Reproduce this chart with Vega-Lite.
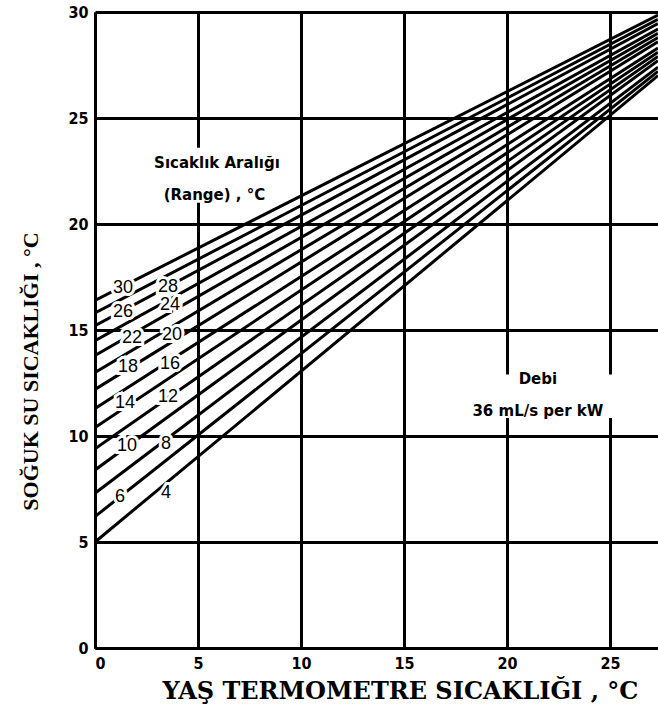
{
  "$schema": "https://vega.github.io/schema/vega-lite/v6.json",
  "width": 563,
  "height": 636,
  "autosize": "none",
  "padding": {"left": 95, "top": 12, "right": 0, "bottom": 73},
  "background": "white",
  "config": {
    "view": {"stroke": null},
    "axis": {
      "grid": true,
      "gridColor": "black",
      "gridWidth": 3,
      "gridOpacity": 1,
      "domainColor": "black",
      "domainWidth": 3,
      "ticks": false,
      "labelFont": "DejaVu Sans Condensed",
      "labelFontWeight": "bold",
      "labelFontSize": 16,
      "labelColor": "black",
      "titleFontWeight": "bold",
      "titleColor": "black"
    }
  },
  "datasets": {
    "lines": [
      {"range": 4, "x": 0, "y": 5.0}, {"range": 4, "x": 27.33, "y": 27.0},
      {"range": 6, "x": 0, "y": 6.2}, {"range": 6, "x": 27.33, "y": 27.2},
      {"range": 8, "x": 0, "y": 7.3}, {"range": 8, "x": 27.33, "y": 27.4},
      {"range": 10, "x": 0, "y": 8.4}, {"range": 10, "x": 27.33, "y": 27.7},
      {"range": 12, "x": 0, "y": 9.4}, {"range": 12, "x": 27.33, "y": 27.9},
      {"range": 14, "x": 0, "y": 10.4}, {"range": 14, "x": 27.33, "y": 28.1},
      {"range": 16, "x": 0, "y": 11.3}, {"range": 16, "x": 27.33, "y": 28.3},
      {"range": 18, "x": 0, "y": 12.2}, {"range": 18, "x": 27.33, "y": 28.6},
      {"range": 20, "x": 0, "y": 13.0}, {"range": 20, "x": 27.33, "y": 28.8},
      {"range": 22, "x": 0, "y": 13.8}, {"range": 22, "x": 27.33, "y": 29.0},
      {"range": 24, "x": 0, "y": 14.5}, {"range": 24, "x": 27.33, "y": 29.2},
      {"range": 26, "x": 0, "y": 15.2}, {"range": 26, "x": 27.33, "y": 29.45},
      {"range": 28, "x": 0, "y": 15.8}, {"range": 28, "x": 27.33, "y": 29.65},
      {"range": 30, "x": 0, "y": 16.4}, {"range": 30, "x": 27.33, "y": 29.85}
    ],
    "labels": [
      {"label": "30", "x": 1.36, "y": 16.98},
      {"label": "28", "x": 3.54, "y": 17.03},
      {"label": "26", "x": 1.36, "y": 15.85},
      {"label": "24", "x": 3.64, "y": 16.18},
      {"label": "22", "x": 1.8, "y": 14.62},
      {"label": "20", "x": 3.74, "y": 14.76},
      {"label": "18", "x": 1.6, "y": 13.25},
      {"label": "16", "x": 3.64, "y": 13.4},
      {"label": "14", "x": 1.46, "y": 11.56},
      {"label": "12", "x": 3.54, "y": 11.84},
      {"label": "10", "x": 1.55, "y": 9.53},
      {"label": "8", "x": 3.45, "y": 9.62},
      {"label": "6", "x": 1.21, "y": 7.12},
      {"label": "4", "x": 3.45, "y": 7.31}
    ],
    "notes": [
      {"text": "Sıcaklık Aralığı", "x": 5.92, "y": 22.9},
      {"text": "(Range) , °C", "x": 5.8, "y": 21.35},
      {"text": "Debi", "x": 21.5, "y": 12.7},
      {"text": "36 mL/s per kW", "x": 21.5, "y": 11.2}
    ],
    "boxes": [
      {"x": 2.7, "x2": 9.4, "y": 21.0, "y2": 23.6},
      {"x": 17.9, "x2": 27.3, "y": 10.85, "y2": 12.9}
    ]
  },
  "layer": [
    {
      "data": {"name": "boxes"},
      "mark": {"type": "rect", "color": "white"},
      "encoding": {
        "x": {"field": "x", "type": "quantitative", "scale": {"domain": [0, 27.33], "nice": false},
          "axis": {"values": [0, 5, 10, 15, 20, 25], "title": "YAŞ TERMOMETRE SICAKLIĞI , °C", "titleFont": "DejaVu Serif", "titleFontSize": 24, "labelPadding": 7, "titleX": 305, "titleY": 43, "titleBaseline": "middle", "titleAlign": "center"}},
        "x2": {"field": "x2"},
        "y": {"field": "y", "type": "quantitative", "scale": {"domain": [0, 30], "nice": false},
          "axis": {"values": [0, 5, 10, 15, 20, 25, 30], "title": "SOĞUK SU SICAKLIĞI , °C", "titleFont": "Liberation Serif", "titleFontSize": 22, "labelPadding": 7, "titleX": -65, "titleY": 359, "titleAngle": -90, "titleBaseline": "middle", "titleAlign": "center"}},
        "y2": {"field": "y2"}
      }
    },
    {
      "data": {"name": "lines"},
      "mark": {"type": "line", "color": "black", "strokeWidth": 3, "clip": true},
      "encoding": {
        "x": {"field": "x", "type": "quantitative"},
        "y": {"field": "y", "type": "quantitative"},
        "detail": {"field": "range", "type": "nominal"}
      }
    },
    {
      "data": {"name": "labels"},
      "mark": {"type": "text", "font": "Liberation Sans", "fontSize": 18, "color": "white", "stroke": "white", "strokeWidth": 6, "align": "center", "baseline": "middle"},
      "encoding": {
        "x": {"field": "x", "type": "quantitative"},
        "y": {"field": "y", "type": "quantitative"},
        "text": {"field": "label"}
      }
    },
    {
      "data": {"name": "labels"},
      "mark": {"type": "text", "font": "Liberation Sans", "fontSize": 18, "color": "black", "align": "center", "baseline": "middle"},
      "encoding": {
        "x": {"field": "x", "type": "quantitative"},
        "y": {"field": "y", "type": "quantitative"},
        "text": {"field": "label"}
      }
    },
    {
      "data": {"name": "notes"},
      "mark": {"type": "text", "font": "DejaVu Sans", "fontWeight": "bold", "fontSize": 15, "color": "black", "align": "center", "baseline": "middle"},
      "encoding": {
        "x": {"field": "x", "type": "quantitative"},
        "y": {"field": "y", "type": "quantitative"},
        "text": {"field": "text"}
      }
    }
  ]
}
